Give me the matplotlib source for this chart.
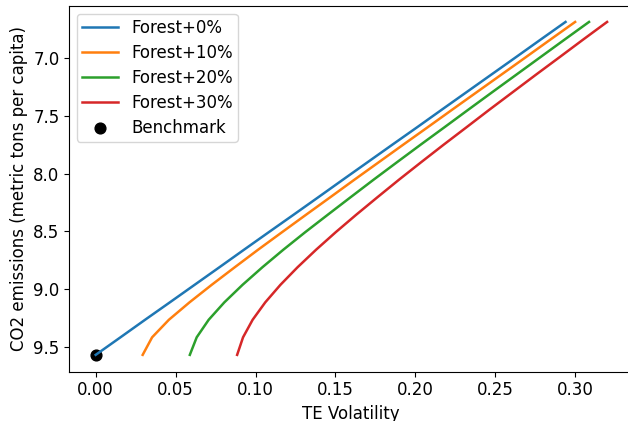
import matplotlib
matplotlib.use("Agg")
import matplotlib.pyplot as plt

# CO2 levels shared by all frontiers (top of the y axis is low emission)
co2 = [9.570, 9.418, 9.266, 9.115, 8.963, 8.811, 8.659, 8.507, 8.356, 8.204,
       8.052, 7.900, 7.748, 7.597, 7.445, 7.293, 7.141, 6.989, 6.837, 6.685]

te_forest0 = [0.0, 0.0155, 0.0309, 0.0464, 0.0619, 0.0774, 0.0928, 0.1083, 0.1238, 0.1393,
              0.1547, 0.1702, 0.1857, 0.2012, 0.2166, 0.2321, 0.2476, 0.2631, 0.2785, 0.2940]
te_forest10 = [0.0294, 0.0353, 0.0458, 0.0587, 0.0726, 0.0870, 0.1016, 0.1166, 0.1316, 0.1468,
               0.1619, 0.1772, 0.1925, 0.2078, 0.2231, 0.2385, 0.2539, 0.2693, 0.2846, 0.3000]
te_forest20 = [0.0589, 0.0632, 0.0707, 0.0805, 0.0919, 0.1043, 0.1174, 0.1311, 0.1452, 0.1595,
               0.1739, 0.1886, 0.2034, 0.2183, 0.2332, 0.2482, 0.2633, 0.2784, 0.2935, 0.3087]
te_forest30 = [0.0885, 0.0922, 0.0982, 0.1061, 0.1156, 0.1263, 0.1379, 0.1502, 0.1630, 0.1763,
               0.1898, 0.2037, 0.2178, 0.2321, 0.2464, 0.2610, 0.2756, 0.2904, 0.3051, 0.3200]

labels = ["Forest+0%", "Forest+10%", "Forest+20%", "Forest+30%"]
benchmark_te = [0.0]
benchmark_co2 = [9.570]

plt.rcParams["font.size"] = 12

fig = plt.figure(figsize=(6.28, 4.21), dpi=100)
ax = fig.add_axes([0.1104, 0.1171, 0.897, 0.8686])

for xs, lab in zip([te_forest0, te_forest10, te_forest20, te_forest30], labels):
    ax.plot(xs, co2, label=lab, linewidth=1.8)
ax.scatter(benchmark_te, benchmark_co2, color="black", s=60, label="Benchmark")

ax.set_xlim(-0.0165, 0.336)
ax.set_ylim(9.716, 6.547)
ax.set_xlabel("TE Volatility")
ax.set_ylabel("CO2 emissions (metric tons per capita)")
ax.legend(loc="upper left", labelspacing=0.42, borderpad=0.3,
          handlelength=2.15, borderaxespad=0.45)

fig.savefig("out.png", dpi=100)
